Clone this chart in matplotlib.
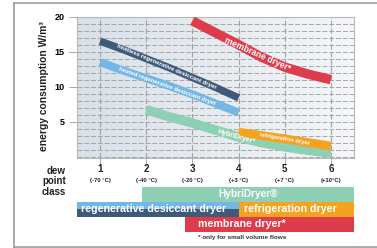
import numpy as np
import matplotlib
matplotlib.use("Agg")
import matplotlib.pyplot as plt
import matplotlib.transforms as mtransforms
from matplotlib.colors import LinearSegmentedColormap
from matplotlib.lines import Line2D

plt.rcParams['font.family'] = ['Liberation Sans', 'DejaVu Sans']
plt.rcParams['font.weight'] = 'bold'

# dew point classes
classes = [1, 2, 3, 4, 5, 6]
class_temps = ['(-70 °C)', '(-40 °C)', '(-20 °C)', '(+3 °C)', '(+7 °C)', '(+10°C)']
y_ticks = [5, 10, 15, 20]

# energy consumption curves (W/m³)
heatless_x = [1, 1.5, 2, 2.5, 3, 3.5, 4]
heatless_y = [16.5, 15.3, 14.0, 12.7, 11.3, 9.9, 8.4]
heated_x = [1, 1.5, 2, 2.5, 3, 3.5, 4]
heated_y = [13.5, 12.3, 11.2, 10.1, 8.9, 7.6, 6.3]
hybri_x = [2, 2.5, 3, 3.5, 4, 4.5, 5, 5.5, 6]
hybri_y = [6.7, 5.7, 4.8, 3.8, 2.8, 2.0, 1.4, 0.9, 0.5]
refrig_x = [4, 5, 6]
refrig_y = [3.5, 2.55, 1.5]
membrane_x = [3, 3.5, 4, 4.5, 5, 5.5, 6]
membrane_y = [19.4, 17.7, 16.0, 14.2, 12.8, 11.8, 11.0]

# class ranges per dryer type (bars below the chart)
bar_labels = ['HybriDryer®', 'regenerative desiccant dryer', 'refrigeration dryer', 'membrane dryer*']
bar_start = [1.9, 0.5, 4.0, 2.85]
bar_end = [6.5, 4.0, 6.5, 6.5]
bar_row = [0, 1, 1, 2]

c_dark = '#3d5a78'
c_light = '#74b6e6'
c_green = '#8dd0b4'
c_orange = '#f5a31f'
c_red = '#de3b4b'

W, H = 377, 248
fig = plt.figure(figsize=(W / 100, H / 100), dpi=100)

def fx(px):
    return px / W

def fy(py):
    return 1 - py / H

# main panel
ax = fig.add_axes([fx(77), fy(157.7), fx(354) - fx(77), fy(16.7) - fy(157.7)])
ax.set_xlim(0.5, 6.5)
ax.set_ylim(-0.15, 20)

grad = LinearSegmentedColormap.from_list('bg', ['#d8e0e8', '#f4f6f8'])
ax.imshow(np.linspace(0, 1, 256)[None, :], cmap=grad, aspect='auto',
          extent=(0.5, 6.5, -0.15, 20), zorder=0)

for v in range(0, 21):
    ax.axhline(v, color='#a6a6a6', lw=0.7, ls=(0, (5, 2)), zorder=1)
for c in classes:
    ax.axvline(c, color='#a3a3a3', lw=0.8, ls=(0, (5, 2)), zorder=1)

for s in ax.spines.values():
    s.set_color('#b8b8b8')
    s.set_linewidth(0.8)

ax.set_xticks(classes)
ax.set_xticklabels([])
ax.set_yticks(y_ticks)
ax.set_yticklabels([str(t) for t in y_ticks], fontsize=6.5, fontweight='bold')
ax.tick_params(axis='both', length=6, width=0.7, color='#a8a8a8', pad=3)

# bands
ax.plot(heatless_x, heatless_y, color=c_dark, lw=5.3, solid_capstyle='butt', zorder=3)
ax.plot(heated_x, heated_y, color=c_light, lw=5.8, solid_capstyle='butt', zorder=3)
ax.plot(hybri_x, hybri_y, color=c_green, lw=6.8, solid_capstyle='butt', zorder=3)
ax.plot(refrig_x, refrig_y, color=c_orange, lw=6.3, solid_capstyle='butt', zorder=4)
ax.plot(membrane_x, membrane_y, color=c_red, lw=6.8, solid_capstyle='butt', zorder=3)

tkw = dict(color='white', fontweight='bold', ha='center', va='center',
           rotation_mode='anchor', zorder=5)
ax.text(2.45, 12.9, 'heatless regenerative desiccant dryer', fontsize=4.3, rotation=-23, **tkw)
ax.text(2.45, 10.1, 'heated regenerative desiccant dryer', fontsize=4.3, rotation=-20, **tkw)
ax.text(4.4, 14.6, 'membrane dryer*', fontsize=6.2, rotation=-24, **tkw)
ax.text(3.95, 2.75, 'HybriDryer*', fontsize=5, rotation=-16, **tkw)
ax.text(5.0, 2.6, 'refrigeration dryer', fontsize=4.2, rotation=-10, **tkw)

# x tick labels in two lines
trans = mtransforms.blended_transform_factory(ax.transData, fig.transFigure)
for c, t in zip(classes, class_temps):
    ax.text(c, fy(169.5), str(c), transform=trans, ha='center', va='center',
            fontsize=7, fontweight='bold', color='#222222')
    ax.text(c, fy(180.5), t, transform=trans, ha='center', va='center',
            fontsize=4.2, fontweight='bold', color='#222222')

fig.text(fx(66), fy(181.5), 'dew\npoint\nclass', ha='right', va='center',
         multialignment='right', fontsize=7, fontweight='bold', color='#222222', linespacing=1.05)
fig.text(fx(44), fy(86.5), 'energy consumption W/m³', rotation=90, ha='center', va='center',
         fontsize=7.4, fontweight='bold', color='#222222')

# bars below
bx = fig.add_axes([fx(77), fy(231.5), fx(354) - fx(77), fy(187) - fy(231.5)])
bx.set_xlim(0.5, 6.5)
bx.set_ylim(3, 0)
bx.axis('off')
bar_colors = [c_green, None, c_orange, c_red]
text_x = [None, 0.58, 4.12, 3.12]
for i, lab in enumerate(bar_labels):
    s, e, r = bar_start[i], bar_end[i], bar_row[i]
    if bar_colors[i] is None:
        bx.barh(r + 0.25, e - s, left=s, height=0.5, color=c_light, align='center')
        bx.barh(r + 0.75, e - s, left=s, height=0.5, color=c_dark, align='center')
    else:
        bx.barh(r + 0.5, e - s, left=s, height=1.0, color=bar_colors[i], align='center')
    if text_x[i] is None:
        bx.text((s + e) / 2, r + 0.5, lab, ha='center', va='center', color='white',
                fontsize=7.3, fontweight='bold')
    else:
        bx.text(text_x[i], r + 0.5, lab, ha='left', va='center', color='white',
                fontsize=7.7, fontweight='bold')

fig.text(fx(198), fy(238), '* only for small volume flows', ha='left', va='center',
         fontsize=4.6, fontweight='bold', color='#333333')

# outer frame
fcol = '#9c9c9c'
fig.add_artist(Line2D([fx(14), 1], [fy(3), fy(3)], transform=fig.transFigure, color=fcol, lw=1.2))
fig.add_artist(Line2D([fx(14), fx(14)], [fy(3), fy(247)], transform=fig.transFigure, color=fcol, lw=1.2))
fig.add_artist(Line2D([fx(14), 1], [fy(247), fy(247)], transform=fig.transFigure, color=fcol, lw=1.2))

fig.savefig('out.png', dpi=100)
